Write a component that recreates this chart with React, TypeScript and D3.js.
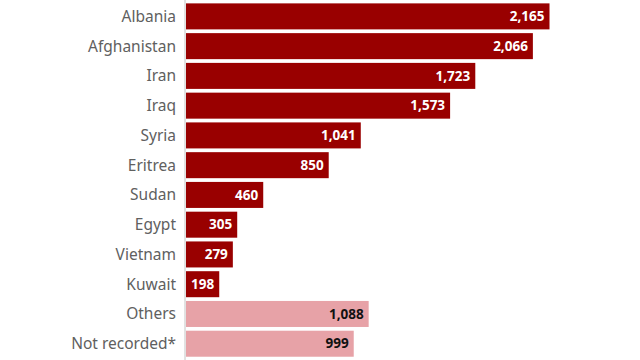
import React, { useRef, useEffect } from 'react'
import * as d3 from 'd3'

const countries = ['Albania', 'Afghanistan', 'Iran', 'Iraq', 'Syria', 'Eritrea', 'Sudan', 'Egypt', 'Vietnam', 'Kuwait', 'Others', 'Not recorded*']
const counts = [2165, 2066, 1723, 1573, 1041, 850, 460, 305, 279, 198, 1088, 999]
const isOther = [false, false, false, false, false, false, false, false, false, false, true, true]

export default function App() {
  const svgRef = useRef<SVGSVGElement>(null)
  const width = 640
  const height = 360

  useEffect(() => {
    if (!svgRef.current) return
    const svg = d3.select(svgRef.current)
    svg.selectAll('*').remove()

    const left = 186
    const x = d3.scaleLinear().domain([0, 2165]).range([left, 549.5])
    const y = d3.scaleBand<string>()
      .domain(countries)
      .range([1.5, 358.6])
      .paddingInner(0.126)
      .paddingOuter(0.063)

    const font = '"Noto Sans", "Open Sans", Arial, sans-serif'

    const rows = svg.append('g')
      .selectAll('g')
      .data(countries)
      .join('g')

    rows.append('rect')
      .attr('x', left)
      .attr('y', d => y(d)!)
      .attr('width', (d, i) => x(counts[i]) - left)
      .attr('height', y.bandwidth())
      .attr('fill', (d, i) => isOther[i] ? '#e7a2a7' : '#990000')

    rows.append('text')
      .attr('x', left - 10)
      .attr('y', d => y(d)! + y.bandwidth() / 2)
      .attr('dy', '0.35em')
      .attr('text-anchor', 'end')
      .attr('font-family', font)
      .attr('font-size', '15.5px')
      .attr('fill', '#606060')
      .text(d => d)

    rows.append('text')
      .attr('x', (d, i) => x(counts[i]) - 5)
      .attr('y', d => y(d)! + y.bandwidth() / 2)
      .attr('dy', '0.35em')
      .attr('text-anchor', 'end')
      .attr('font-family', font)
      .attr('font-size', '13.5px')
      .attr('font-weight', 'bold')
      .attr('fill', (d, i) => isOther[i] ? '#111' : '#fff')
      .text((d, i) => d3.format(',')(counts[i]))

    // axis line
    svg.append('line')
      .attr('x1', left - 1)
      .attr('x2', left - 1)
      .attr('y1', 0)
      .attr('y2', height)
      .attr('stroke', '#c4c4c4')
      .attr('stroke-width', 1)
  }, [])

  return (
    <svg
      ref={svgRef}
      width={width}
      height={height}
      style={{ position: 'fixed', left: 0, top: 0, background: '#fff' }}
    />
  )
}
